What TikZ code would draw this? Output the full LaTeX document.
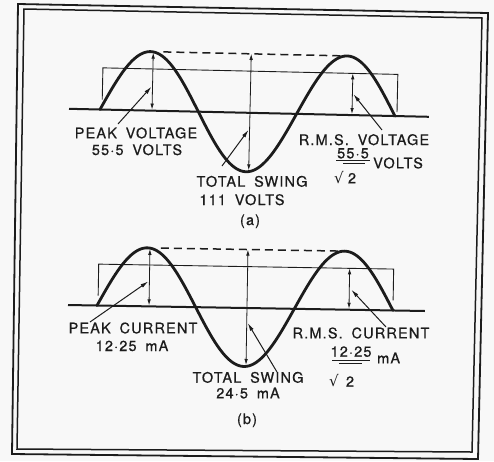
\documentclass[tikz,border=0pt]{standalone}
\usepackage{fontspec}
\setmainfont{TeX Gyre Heros}
\newfontfamily\lblfamily[LetterSpace=8,WordSpace=1.7,FakeBold=0.6]{TeX Gyre Heros}
\newfontfamily\symfamily{DejaVu Sans}
\usetikzlibrary{arrows.meta}
\definecolor{ink}{RGB}{28,28,28}
\definecolor{paper}{RGB}{248,248,248}
\tikzset{
  lbl/.style={font=\lblfamily\fontsize{14.5}{16}\selectfont, text=ink, inner sep=0pt, anchor=base},
  sym/.style={font=\symfamily\fontsize{15}{16}\selectfont, text=ink, inner sep=0pt, anchor=base},
  framel/.style={ink, line width=1.8pt, line join=miter},
  axisl/.style={ink, line width=2pt},
  wavel/.style={ink, line width=2.8pt, line cap=round},
  rmsl/.style={ink, line width=0.9pt},
  dashl/.style={ink, line width=1.5pt, dash pattern=on 8pt off 5pt},
  dbl/.style={ink, line width=0.8pt, {Latex[length=6pt,width=3.5pt]}-{Latex[length=6pt,width=3.5pt]}},
  ptr/.style={ink, line width=1pt, -{Latex[length=8pt,width=4pt]}},
  barl/.style={ink, line width=0.9pt}
}
\begin{document}
\begin{tikzpicture}[x=1pt,y=-1pt]
\useasboundingbox (0,0) rectangle (494,461);
\fill[paper] (0,0) rectangle (494,461);
% frame
\draw[framel] (18,4) -- (488,13) -- (478,459) -- (12,454) -- cycle;
\draw[framel, line width=1.5pt] (24,9) -- (482,18) -- (472,452) -- (17,449) -- cycle;

% ---------- panel (a)
\begin{scope}[shift={(100,109.5)}, rotate=-1.27]
  \draw[axisl] (-31,0) -- (329,0);
  \draw[rmsl] (2,-10) -- (2,-41.7) -- (297,-41.7) -- (297,-4);
  \draw[dashl] (62,-59) -- (243,-59);
  \draw[wavel] plot[domain=0:295, samples=150, smooth, variable=\t] (\t, {-59*sin(\t*1.8306)});
  \draw[dbl] (52,-1) -- (52,-58);
  \draw[dbl] (150,-59) -- (150,57.5);
  \draw[dbl] (252,-1) -- (252,-41.7);
  \coordinate (a-pk) at (51,-24);
  \coordinate (a-sw) at (149,17);
  \coordinate (a-rm) at (253,-21);
\end{scope}
\coordinate (a-pk0) at (118,124);
\coordinate (a-sw0) at (222,166);
\coordinate (a-rm0) at (382,130);
\draw[ptr] (a-pk0) -- (a-pk);
\draw[ptr] (a-sw0) -- (a-sw);
\draw[ptr] (a-rm0) -- (a-rm);

\node[lbl] (apk1) at (136,138.3) {PEAK VOLTAGE};
\node[lbl] (apk2) at (137,155) {55·5 VOLTS};
\node[lbl] (asw1) at (252,186.7) {TOTAL SWING};
\node[lbl] (asw2) at (242,205) {111 VOLTS};
\node[lbl] (acap) at (250,225) {(a)};
\node[lbl] (arm1) at (364,145) {R.M.S. VOLTAGE};
\node[lbl] (arm2) at (353,158.3) {55·5};
\node[lbl, anchor=base west] (arm3) at (373,168.3) {VOLTS};
\node[sym] (arm4) at (339,183.3) {√};
\node[lbl] (arm5) at (352,183.3) {2};
\draw[barl] (336,160) -- (370,160);
\draw[barl] (343,163) -- (365,163);

% ---------- panel (b)
\begin{scope}[shift={(97,305.5)}, rotate=-0.96]
  \draw[axisl] (-29,0) -- (328,0);
  \draw[rmsl] (1,-10) -- (1,-41.4) -- (296,-41.4) -- (296,-10);
  \draw[dashl] (63,-58.5) -- (243,-58.5);
  \draw[wavel] plot[domain=0:296, samples=150, smooth, variable=\t] (\t, {-58.5*sin(\t*1.8243)});
  \draw[dbl] (52,-1) -- (52,-57.5);
  \draw[dbl] (150,-58.5) -- (150,57);
  \draw[dbl] (252,-1) -- (252,-41.4);
  \coordinate (b-pk) at (51,-25);
  \coordinate (b-sw) at (151,15);
  \coordinate (b-rm) at (254,-20);
\end{scope}
\coordinate (b-pk0) at (90,322);
\coordinate (b-sw0) at (277,372);
\coordinate (b-rm0) at (386,327);
\draw[ptr] (b-pk0) -- (b-pk);
\draw[ptr] (b-sw0) -- (b-sw);
\draw[ptr] (b-rm0) -- (b-rm);

\node[lbl] (bpk1) at (133,333.3) {PEAK CURRENT};
\node[lbl] (bpk2) at (132,351) {12·25 mA};
\node[lbl] (bsw1) at (248,382.7) {TOTAL SWING};
\node[lbl] (bsw2) at (248,398.3) {24·5 mA};
\node[lbl] (bcap) at (247,424) {(b)};
\node[lbl] (brm1) at (361,338.3) {R.M.S. CURRENT};
\node[lbl] (brm2) at (351,356.7) {12·25};
\node[lbl, anchor=base west] (brm3) at (377,363.3) {mA};
\node[sym] (brm4) at (334,386.7) {√};
\node[lbl] (brm5) at (350,386.7) {2};
\draw[barl] (332,360) -- (370,360);
\draw[barl] (339,363) -- (362,363);
\end{tikzpicture}
\end{document}
